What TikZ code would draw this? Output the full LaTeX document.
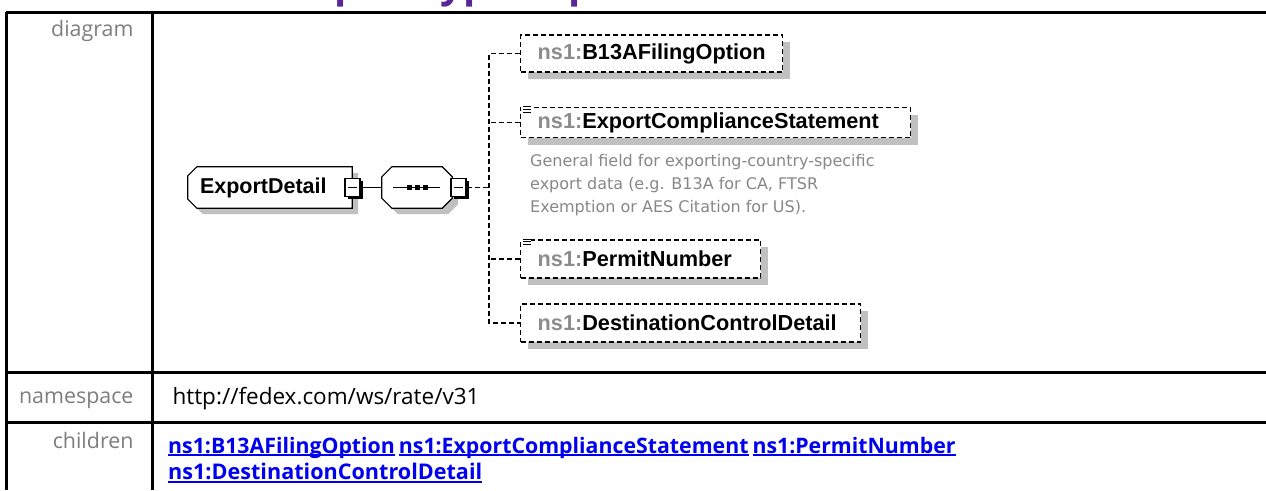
\documentclass[tikz,border=0pt]{standalone}
\usepackage{fontspec}
\setmainfont{Open Sans}
\newfontfamily\diagfont{Liberation Sans}
\newfontfamily\notefont{DejaVu Sans}
\usetikzlibrary{positioning, shadows, backgrounds, calc}
\definecolor{labelgray}{RGB}{125,125,125}
\definecolor{prefixgray}{RGB}{140,140,140}
\definecolor{notegray}{RGB}{135,135,135}
\definecolor{shadowgray}{RGB}{192,192,192}
\definecolor{linkblue}{RGB}{0,0,238}
\definecolor{titlepurple}{RGB}{88,38,150}
\newcommand{\nsname}[1]{\textcolor{prefixgray}{ns1:}#1}
\newcommand{\linkul}[1]{\leavevmode\setbox0\hbox{#1}\rlap{\rule[-3pt]{\wd0}{2pt}}\box0}
\newcommand{\listmark}[1]{%
  \fill[white] ([xshift=1pt,yshift=1pt]#1.north west) rectangle ++(10pt,-10pt);
  \foreach \k in {0,1,2}
    \draw[line width=1pt] ([xshift=3pt,yshift=-\k*2.6pt]#1.north west) -- ++(8pt,0);}
% outline with cut corners: node, left cut, right cut
\newcommand{\cutoutline}[3]{%
  \draw[elemline] ([xshift=#2]#1.north west) -- ([xshift=-#3]#1.north east)
    -- ([yshift=-#3]#1.north east) -- ([yshift=#3]#1.south east)
    -- ([xshift=-#3]#1.south east) -- ([xshift=#2]#1.south west)
    -- ([yshift=#2]#1.south west) -- ([yshift=-#2]#1.north west) -- cycle;}
\tikzset{
  tableline/.style={line width=3pt},
  rowlabel/.style={anchor=base east, text=labelgray, font=\fontsize{21.4}{25}\selectfont},
  rowvalue/.style={anchor=base west, font=\fontsize{22.5}{26}\selectfont},
  linkrow/.style={anchor=base west, inner sep=0pt, text=linkblue,
                  font=\bfseries\fontsize{21.6}{26}\selectfont},
  elembox/.style={rectangle, minimum width=164pt, minimum height=41pt, inner sep=0pt},
  elemline/.style={line width=1.2pt, fill=white,
                   general shadow={fill=shadowgray, shadow xshift=6pt, shadow yshift=-6pt}},
  minusbox/.style={rectangle, draw, line width=1.2pt, fill=white,
                   minimum width=15pt, minimum height=18pt, inner sep=0pt,
                   general shadow={fill=black, shadow xshift=2.5pt, shadow yshift=-2.5pt},
                   path picture={\draw[line width=1pt]
                     ([xshift=3pt]path picture bounding box.west) --
                     ([xshift=-3pt]path picture bounding box.east);}},
  childbox/.style={rectangle, draw, dash pattern=on 5pt off 3pt, line width=1.4pt,
                   fill=white, anchor=west, minimum height=37pt, inner xsep=17pt,
                   align=left,
                   general shadow={fill=shadowgray, shadow xshift=7pt, shadow yshift=-7pt},
                   font=\diagfont\bfseries\fontsize{21.7}{25}\selectfont},
  conn/.style={line width=1.2pt},
  dconn/.style={line width=1.4pt, dash pattern=on 5pt off 3pt},
}

\begin{document}
\begin{tikzpicture}[x=1pt, y=-1pt]
  \useasboundingbox (0,0) rectangle (1266,490);

  % cut-off heading
  \node[anchor=base west, inner sep=0pt, text=titlepurple,
        font=\bfseries\fontsize{40}{48}\selectfont] (title) at (250,-3) {complexType ExportDetail};

  % table
  \draw[tableline] (6,12) -- (1266,12);
  \draw[tableline] (6,12) -- (6,490);
  \draw[tableline] (152,12) -- (152,490);
  \draw[tableline] (6,372) -- (1266,372);
  \draw[tableline] (6,422) -- (1266,422);

  \node[rowlabel] (lbdiag) at (137,36)  {diagram};
  \node[rowlabel] (lbns)   at (137,403) {namespace};
  \node[rowlabel] (lbch)   at (137,448) {children};
  \node[rowvalue] (nsval)  at (169,404) {http://fedex.com/ws/rate/v31};
  \node[linkrow, font=\bfseries\fontsize{21.3}{26}\selectfont] (chlinks) at (168,453)
    {\linkul{ns1:B13AFilingOption}\hspace{4pt}\linkul{ns1:ExportComplianceStatement}\hspace{4pt}\linkul{ns1:PermitNumber}};
  \node[linkrow] (chlinks2) at (168,479.5) {\linkul{ns1:DestinationControlDetail}};

  % diagram
  \node[elembox, text width=140pt, align=left,
        font=\diagfont\bfseries\fontsize{21.5}{25}\selectfont] (ed) at (270,187.5) {ExportDetail};
  \node[elembox, minimum width=70pt] (seq) at (417,187.5) {};
  \begin{scope}[on background layer]
    \cutoutline{ed}{9pt}{0pt}
    \cutoutline{seq}{10pt}{10pt}
  \end{scope}
  \node[minusbox] (edmin) at (352.5,187.5) {};
  \node[minusbox] (seqmin) at (458.5,187.5) {};

  \draw[line width=1.2pt] ([xshift=-24pt]seq.center) -- ([xshift=23pt]seq.center);
  \foreach \d in {-8,0,8}
    \fill ([xshift=\d pt]seq.center) ++(-2.5pt,-2.5pt) rectangle ++(5pt,5pt);

  \node[childbox, text width=228pt] (b13a) at (520,53.5)  {\nsname{B13AFilingOption}};
  \node[childbox, text width=356pt, minimum height=30pt] (ecs) at (520,122.5) {\nsname{ExportComplianceStatement}};
  \node[childbox, text width=206pt, minimum height=38pt] (pn)  at (520,259)   {\nsname{PermitNumber}};
  \node[childbox, text width=306pt, minimum height=38pt] (dcd) at (520,323)   {\nsname{DestinationControlDetail}};
  \listmark{ecs}
  \listmark{pn}

  \node[anchor=north west, inner sep=0pt, align=left, text=notegray,
        font=\notefont\fontsize{16}{23}\selectfont] (ecsnote) at (530,154)
    {General field for exporting-country-specific\\
     export data (e.g. B13A for CA, FTSR\\
     Exemption or AES Citation for US).};

  \coordinate (spine) at (489,0);
  \draw[conn] (edmin.east) -- (seq.west);
  \draw[dconn] (seqmin.east) -- (seqmin.east -| spine);
  \draw[dconn] (b13a.west) -- (b13a.west -| spine) -- (dcd.west -| spine) -- (dcd.west);
  \draw[dconn] (ecs.west) -- (ecs.west -| spine);
  \draw[dconn] (pn.west) -- (pn.west -| spine);
\end{tikzpicture}
\end{document}
